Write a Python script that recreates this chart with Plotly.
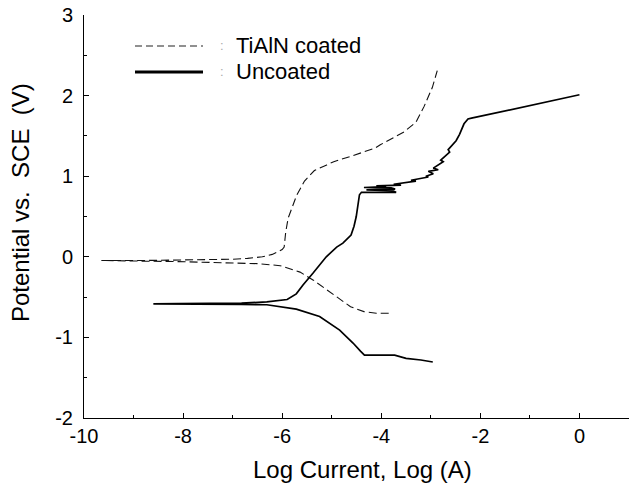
import plotly.graph_objects as go

# TiAlN coated: cathodic branch (high current -> Ecorr) then anodic branch
coated_logI = [-3.85, -4.10, -4.35, -4.62, -4.96, -5.37, -5.64, -6.04, -6.50, -7.00, -7.40, -7.80, -8.20, -8.70, -9.20, -9.65,
               -9.20, -8.70, -8.20, -7.80, -7.40, -7.00, -6.70, -6.40, -6.20, -6.00, -5.96, -5.93, -5.88, -5.80, -5.71,
               -5.55, -5.35, -5.10, -4.96, -4.60, -4.12, -4.02, -3.54, -3.30, -3.14, -2.97, -2.87]
coated_E = [-0.70, -0.70, -0.68, -0.62, -0.47, -0.29, -0.19, -0.11, -0.085, -0.075, -0.065, -0.062, -0.058, -0.055, -0.05, -0.045,
            -0.045, -0.045, -0.042, -0.04, -0.035, -0.03, -0.02, 0.00, 0.03, 0.09, 0.12, 0.30, 0.48, 0.62, 0.76,
            0.94, 1.07, 1.14, 1.18, 1.25, 1.35, 1.39, 1.55, 1.67, 1.86, 2.10, 2.31]

# Uncoated: cathodic branch then anodic branch
uncoated_logI = [-2.96, -3.20, -3.50, -3.73, -4.00, -4.34, -4.42, -4.57, -4.84, -5.245, -5.715, -6.31, -6.82, -7.06, -7.60, -8.10, -8.60,
                 -8.10, -7.60, -7.06, -6.82, -6.31, -5.90, -5.715, -5.58, -5.38, -5.11, -4.90, -4.775, -4.61, -4.55, -4.505, -4.45, -4.44,
                 -4.40, -3.70, -3.78, -4.30, -3.72, -3.80, -4.35, -3.90, -4.10, -3.60, -3.75, -3.30, -3.40, -3.05, -3.10,
                 -2.95, -3.05, -2.85, -2.95, -2.75, -2.80, -2.62, -2.65, -2.49, -2.42, -2.33, -2.25, -2.18, 0.00]
uncoated_E = [-1.305, -1.28, -1.26, -1.22, -1.22, -1.22, -1.17, -1.07, -0.91, -0.74, -0.65, -0.595, -0.59, -0.59, -0.585, -0.585, -0.585,
              -0.58, -0.58, -0.575, -0.575, -0.56, -0.53, -0.46, -0.35, -0.205, 0.00, 0.12, 0.17, 0.27, 0.38, 0.50, 0.70, 0.77,
              0.80, 0.80, 0.82, 0.83, 0.84, 0.855, 0.86, 0.87, 0.88, 0.89, 0.90, 0.94, 0.95, 0.99, 1.00,
              1.03, 1.06, 1.08, 1.10, 1.18, 1.20, 1.30, 1.33, 1.44, 1.52, 1.65, 1.71, 1.72, 2.01]

series_names = ["TiAlN coated", "Uncoated"]
x_ticks = [-10, -8, -6, -4, -2, 0]
y_ticks = [-2, -1, 0, 1, 2, 3]

FONT = "Liberation Sans, Arial, sans-serif"

fig = go.Figure()
fig.add_trace(go.Scatter(x=coated_logI, y=coated_E, mode="lines", name=series_names[0],
                         line=dict(color="#111111", width=1.1, dash="8px,4px"), showlegend=False))
fig.add_trace(go.Scatter(x=uncoated_logI, y=uncoated_E, mode="lines", name=series_names[1],
                         line=dict(color="#000000", width=1.7), showlegend=False))

W, H = 629, 484
L, R, T = 84, 0, 15
ph = 403
B = H - T - ph
pw = W - L - R

def px(x):  # picture pixel -> paper
    return (x - L) / pw

def py(y):
    return (H - B - y) / ph

# legend drawn manually
fig.add_shape(type="line", xref="paper", yref="paper", x0=px(135), x1=px(203), y0=py(46), y1=py(46),
              line=dict(color="#222222", width=1.2, dash="7px,4px"))
fig.add_shape(type="line", xref="paper", yref="paper", x0=px(135), x1=px(203), y0=py(72), y1=py(72),
              line=dict(color="#000000", width=3))
for yy, name in [(46, series_names[0]), (71, series_names[1])]:
    fig.add_annotation(xref="paper", yref="paper", x=px(222), y=py(yy), text=":", showarrow=False,
                       font=dict(family=FONT, size=13, color="#aaaaaa"), xanchor="center", yanchor="middle")
    fig.add_annotation(xref="paper", yref="paper", x=px(234), y=py(yy), text=name, showarrow=False,
                       font=dict(family=FONT, size=22, color="#000000"), xanchor="left", yanchor="middle")

# axis titles
fig.add_annotation(xref="paper", yref="paper", x=px(362), y=py(470), text="Log Current, Log (A)", showarrow=False,
                   font=dict(family=FONT, size=24, color="#000000"), xanchor="center", yanchor="middle")
fig.add_annotation(xref="paper", yref="paper", x=px(21), y=py(203), text="Potential vs.&nbsp;&nbsp;SCE&nbsp;&nbsp;(V)",
                   showarrow=False, textangle=-90,
                   font=dict(family=FONT, size=24, color="#000000"), xanchor="center", yanchor="middle")

fig.update_layout(
    width=W, height=H,
    margin=dict(l=L, r=R, t=T, b=B, pad=0, autoexpand=False),
    paper_bgcolor="white", plot_bgcolor="white",
    font=dict(family=FONT, size=20, color="#000000"),
    showlegend=False,
)
fig.update_xaxes(range=[-10, 1], tickvals=x_ticks, ticktext=[str(v) for v in x_ticks],
                 ticks="inside", ticklen=5, tickwidth=1, tickcolor="black",
                 minor=dict(dtick=1, ticks="inside", ticklen=3, tickcolor="black", tick0=0),
                 showline=True, linecolor="black", linewidth=1, showgrid=False, zeroline=False,
                 tickfont=dict(family=FONT, size=20), ticklabelstandoff=0, ticklabeloverflow="allow")
fig.update_yaxes(range=[-2, 3], tickvals=y_ticks, ticktext=[str(v) for v in y_ticks],
                 ticks="inside", ticklen=5, tickwidth=1, tickcolor="black",
                 minor=dict(dtick=0.5, ticks="inside", ticklen=3, tickcolor="black", tick0=0),
                 showline=True, linecolor="black", linewidth=1, showgrid=False, zeroline=False,
                 tickfont=dict(family=FONT, size=20), ticklabelstandoff=6, ticklabeloverflow="allow")

# remove the default 8px page margin so the figure sits at the window's top-left corner
fig.write_html("out.html", config={"displayModeBar": False},
               post_script="document.body.style.margin='0';")
